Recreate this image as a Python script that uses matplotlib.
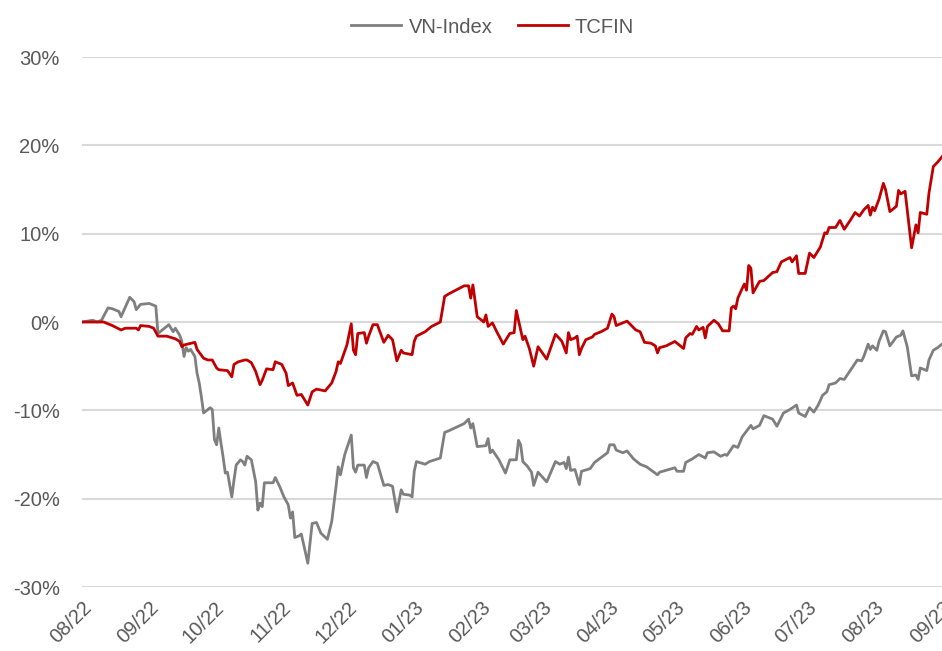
import numpy as np
import matplotlib
matplotlib.use("Agg")
import matplotlib.pyplot as plt
import matplotlib.dates as mdates
from matplotlib.ticker import FuncFormatter

plt.rcParams['font.family'] = ['Liberation Sans', 'DejaVu Sans']

start = np.datetime64('2022-08-01')

# VN-Index, % change vs start (day offset from 2022-08-01, value)
vn_days = [0, 5, 7, 9, 12, 14, 17, 18, 22, 24, 25, 27, 31, 33, 34, 35, 38, 40, 42, 43,
           45, 46, 47, 48, 49, 50, 52, 53, 54, 55, 56, 59, 60, 61, 62, 63, 64, 65, 66, 67,
           69, 70, 71, 73, 74, 75, 76, 78, 80, 81, 82, 83, 84, 88, 89, 91, 93, 95, 96, 97,
           98, 100, 101, 104, 106, 108, 110, 113, 115, 117, 118, 119, 121, 124, 125, 126, 127, 130, 131, 132,
           134, 136, 139, 141, 143, 145, 147, 148, 151, 152, 153, 154, 158, 160, 165, 167, 169, 176, 178, 179,
           180, 182, 186, 187, 188, 189, 192, 195, 197, 200, 201, 202, 203, 205, 207, 208, 210, 214, 218, 220,
           222, 223, 224, 225, 227, 229, 230, 234, 236, 242, 243, 245, 246, 249, 251, 254, 257, 260, 265, 266,
           273, 274, 277, 278, 281, 284, 287, 288, 291, 294, 296, 297, 300, 302, 304, 308, 309, 312, 314, 317,
           318, 320, 323, 326, 329, 330, 333, 335, 337, 339, 341, 343, 344, 347, 349, 351, 354, 357, 359, 360,
           362, 363, 364, 366, 367, 369, 370, 372, 375, 377, 378, 380, 382, 384, 385, 386, 389, 390, 392, 394,
           396]
vn_vals = [0.0, 0.2, 0.0, 0.2, 1.6, 1.5, 1.2, 0.6, 2.8, 2.3, 1.4, 2.0, 2.1, 1.9, 1.8, -1.3, -0.7, -0.3, -1.1, -0.7,
           -1.5, -2.2, -3.9, -2.9, -3.3, -3.1, -3.9, -5.8, -6.9, -8.5, -10.3, -9.7, -9.9, -13.3, -13.9, -12.0, -13.7, -15.3, -17.1, -17.0,
           -19.8, -17.9, -16.2, -15.6, -15.8, -16.2, -15.2, -15.6, -18.1, -21.3, -20.5, -20.9, -18.2, -18.2, -17.6, -18.6, -19.8, -20.7, -22.2, -21.5,
           -24.4, -24.2, -24.0, -27.3, -22.8, -22.7, -23.9, -24.6, -22.6, -18.6, -16.4, -17.3, -15.0, -12.8, -16.5, -17.0, -16.2, -16.2, -17.6, -16.5,
           -15.8, -16.0, -18.5, -18.4, -18.6, -21.5, -19.0, -19.5, -19.6, -19.8, -16.9, -15.8, -16.1, -15.8, -15.4, -12.5, -12.3, -11.5, -11.0, -12.0,
           -11.5, -14.1, -14.0, -13.2, -14.8, -14.5, -15.6, -17.1, -15.6, -15.6, -13.4, -13.9, -15.8, -16.3, -17.0, -18.5, -17.0, -18.1, -15.8, -16.1,
           -15.9, -16.6, -15.3, -16.8, -16.7, -18.4, -16.9, -16.6, -15.9, -14.8, -13.9, -13.9, -14.5, -14.8, -14.6, -15.5, -16.1, -16.4, -17.3, -17.0,
           -16.5, -16.9, -16.9, -15.9, -15.5, -15.0, -15.4, -14.8, -14.7, -15.2, -15.0, -15.1, -14.0, -14.2, -13.0, -11.7, -12.1, -11.7, -10.6, -10.9,
           -11.0, -11.8, -10.3, -9.9, -9.4, -10.3, -10.7, -9.7, -10.2, -9.4, -8.3, -7.9, -7.1, -6.9, -6.4, -6.5, -5.4, -4.3, -4.4, -3.9,
           -2.5, -3.1, -2.7, -3.2, -2.2, -1.0, -1.1, -2.7, -1.7, -1.5, -1.0, -2.8, -6.1, -6.0, -6.5, -5.2, -5.5, -4.3, -3.2, -2.9,
           -2.5]

# TCFIN, % change vs start
tc_days = [0, 5, 10, 14, 18, 20, 25, 26, 27, 31, 33, 35, 39, 43, 45, 46, 47, 52, 53, 56,
           58, 60, 62, 63, 67, 69, 70, 72, 75, 76, 78, 80, 82, 83, 85, 88, 89, 92, 94, 95,
           97, 99, 101, 104, 106, 108, 112, 115, 117, 118, 119, 122, 124, 125, 126, 127, 130, 131, 132, 134,
           136, 139, 141, 143, 145, 147, 148, 152, 153, 154, 158, 161, 165, 167, 169, 176, 178, 179, 180, 182,
           185, 186, 187, 189, 191, 194, 197, 199, 200, 203, 204, 206, 208, 210, 214, 218, 220, 221, 223, 224,
           225, 227, 228, 229, 230, 232, 235, 236, 239, 242, 244, 245, 246, 251, 255, 257, 259, 262, 264, 265,
           266, 269, 273, 277, 278, 280, 281, 283, 284, 286, 287, 288, 291, 293, 295, 298, 299, 300, 301, 302,
           304, 305, 306, 307, 308, 309, 312, 314, 318, 320, 322, 326, 327, 329, 330, 333, 335, 337, 340, 342,
           343, 344, 347, 349, 351, 354, 356, 358, 360, 362, 363, 364, 365, 367, 369, 370, 372, 375, 376, 377,
           379, 382, 384, 385, 386, 389, 390, 392, 394, 396]
tc_vals = [0.0, 0.0, 0.0, -0.4, -0.9, -0.7, -0.7, -0.9, -0.4, -0.5, -0.7, -1.6, -1.6, -1.9, -2.2, -2.8, -2.6, -2.3, -3.1, -4.1,
           -4.3, -4.3, -5.2, -5.4, -5.5, -6.2, -4.8, -4.5, -4.3, -4.3, -4.6, -5.6, -7.1, -6.6, -5.3, -5.4, -4.5, -4.8, -5.8, -7.2,
           -6.9, -8.3, -8.2, -9.4, -7.9, -7.6, -7.8, -6.9, -5.6, -4.5, -4.7, -2.6, -0.2, -3.2, -3.7, -1.3, -1.2, -2.4, -1.6, -0.3,
           -0.3, -2.3, -1.5, -2.0, -4.4, -3.2, -3.5, -3.7, -2.2, -1.6, -1.1, -0.5, 0.0, 2.9, 3.2, 4.1, 4.1, 2.7, 4.2, 0.6,
           0.0, 0.8, -0.5, -0.1, -1.1, -2.5, -1.3, -1.2, 1.3, -2.0, -1.6, -3.0, -5.0, -2.8, -4.2, -1.4, -1.9, -2.2, -3.5, -1.2,
           -2.0, -1.8, -1.6, -3.7, -3.0, -2.0, -1.7, -1.4, -1.1, -0.7, 0.9, 0.6, -0.4, 0.1, -0.9, -1.1, -2.3, -2.4, -2.7, -3.5,
           -2.9, -2.7, -2.2, -3.0, -1.8, -1.3, -1.4, -0.5, -0.9, -0.6, -1.8, -0.5, 0.2, -0.2, -1.0, -1.0, 1.6, 1.8, 1.5, 2.7,
           3.8, 4.3, 3.6, 6.4, 6.1, 3.3, 4.6, 4.7, 5.6, 5.7, 6.8, 7.3, 6.8, 7.5, 5.5, 5.5, 7.8, 7.3, 8.5, 10.1,
           10.0, 10.7, 10.7, 11.5, 10.5, 11.6, 12.4, 12.0, 12.7, 13.2, 12.1, 13.0, 12.6, 13.9, 15.7, 15.0, 12.5, 13.1, 14.9, 14.5,
           14.8, 8.4, 11.0, 10.1, 12.4, 12.2, 14.6, 17.6, 18.1, 18.7]

vn_dates = start + np.array(vn_days).astype('timedelta64[D]')
tc_dates = start + np.array(tc_days).astype('timedelta64[D]')

fig = plt.figure(figsize=(9.42, 6.51), dpi=100)
ax = fig.add_axes([0.087, 0.0983, 0.913, 0.8141])

ax.plot(vn_dates, vn_vals, color='#7f7f7f', lw=2.0, label='VN-Index', zorder=3)
ax.plot(tc_dates, tc_vals, color='#c00000', lw=2.0, label='TCFIN', zorder=4)

ax.set_ylim(-30, 30)
ax.set_yticks(np.arange(-30, 31, 10))
ax.yaxis.set_major_formatter(FuncFormatter(lambda v, p: f'{v:.0f}%'))
ax.set_xlim(start, np.datetime64('2023-09-01'))
ax.xaxis.set_major_locator(mdates.MonthLocator())
ax.xaxis.set_major_formatter(mdates.DateFormatter('%m/%y'))

ax.grid(axis='y', color='#d9d9d9', lw=1.5)
ax.set_axisbelow(True)
for s in ax.spines.values():
    s.set_visible(False)
ax.tick_params(axis='both', length=0, colors='#595959', labelsize=14.5)
ax.tick_params(axis='y', pad=16)
ax.tick_params(axis='x', pad=8)
for lbl in ax.get_xticklabels():
    lbl.set_rotation(45)
    lbl.set_ha('right')
    lbl.set_va('top')
    lbl.set_rotation_mode('anchor')

fig.legend(loc='center', bbox_to_anchor=(0.523, 0.9585), ncol=2, frameon=False,
           fontsize=14.5, labelcolor='#595959', handlelength=2.5, handletextpad=0.35,
           columnspacing=1.25)

fig.savefig('out.png', dpi=100)
